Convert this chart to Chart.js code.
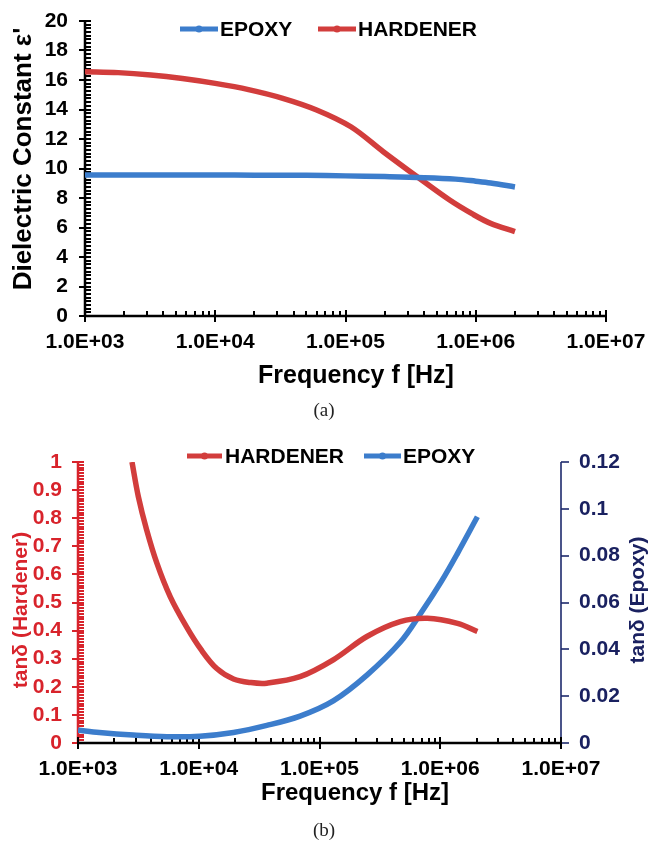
<!DOCTYPE html>
<html><head><meta charset="utf-8">
<script src="https://cdn.jsdelivr.net/npm/chart.js@4.4.1/dist/chart.umd.min.js"></script>
<style>
html,body{margin:0;padding:0;background:#fff;width:648px;height:841px;overflow:hidden}
canvas{position:absolute;left:0}
#ca{top:0}
#cb{top:420px}
.cap{position:absolute;left:0;width:648px;text-align:center;font-family:"Liberation Serif","Times New Roman",serif;font-size:19px;color:#222;line-height:22px}
</style></head><body>
<canvas id="ca" width="648" height="420"></canvas>
<canvas id="cb" width="648" height="421"></canvas>
<div class="cap" style="top:399px">(a)</div>
<div class="cap" style="top:819px">(b)</div>
<script>
// ---------- data ----------
const xTickValues = [1e3, 1e4, 1e5, 1e6, 1e7];
const xTickLabels = ['1.0E+03', '1.0E+04', '1.0E+05', '1.0E+06', '1.0E+07'];

// (a) dielectric constant
const freqEpoxyA = [1000, 2000, 5000, 10000, 20000, 50000, 100000, 200000, 400000, 700000, 1000000, 1300000, 2000000];
const epsEpoxy   = [9.56, 9.56, 9.56, 9.56, 9.55, 9.54, 9.50, 9.45, 9.38, 9.28, 9.14, 9.02, 8.75];
const freqHardA  = [1000, 1800, 3200, 5600, 10000, 18000, 33000, 60000, 110000, 195000, 355000, 630000, 950000, 1300000, 2000000];
const epsHard    = [16.56, 16.50, 16.34, 16.10, 15.77, 15.35, 14.76, 13.97, 12.83, 11.14, 9.44, 7.86, 6.90, 6.28, 5.72];
const yTicksA = ['0','2','4','6','8','10','12','14','16','18','20'];

// (b) loss tangent
const freqHardB = [2800, 3160, 3700, 4500, 5800, 7900, 10500, 14100, 19400, 27000, 36600, 69000, 130000, 247000, 466000, 783000, 1390000, 2030000];
const tanHard   = [1.0, 0.877, 0.759, 0.64, 0.521, 0.414, 0.331, 0.265, 0.228, 0.215, 0.213, 0.236, 0.296, 0.379, 0.432, 0.444, 0.426, 0.397];
const freqEpoxyB = [1000, 1500, 2860, 5460, 10200, 19400, 36600, 69000, 130000, 247000, 466000, 692000, 1016000, 1390000, 2030000];
const tanEpoxy   = [0.0055, 0.0045, 0.0034, 0.0027, 0.0029, 0.0045, 0.0075, 0.0115, 0.018, 0.029, 0.043, 0.0555, 0.0688, 0.081, 0.0966];
const yTicksBL = ['0','0.1','0.2','0.3','0.4','0.5','0.6','0.7','0.8','0.9','1'];
const yTicksBR = ['0','0.02','0.04','0.06','0.08','0.1','0.12'];

// ---------- style ----------
const RED = '#d23d3c', BLUE = '#3c7dcc';
const AXRED = '#d8232b', NAVY = '#1d2a6c', NAVYTXT = '#1a2160';
const FAM = '"Liberation Sans", Arial, Helvetica, sans-serif';
Chart.defaults.font.family = FAM;
Chart.defaults.devicePixelRatio = 1;

const pts = (xs, ys) => xs.map((x, i) => ({x, y: ys[i]}));
const noPad = s => { s.paddingLeft = 0; s.paddingRight = 0; s.paddingTop = 0; s.paddingBottom = 0; };

function drawText(ctx, text, x, y, rot, color, size) {
  ctx.save();
  ctx.translate(x, y);
  if (rot) ctx.rotate(rot);
  ctx.fillStyle = color;
  ctx.font = 'bold ' + size + 'px ' + FAM;
  ctx.textAlign = 'center'; ctx.textBaseline = 'middle';
  ctx.fillText(text, 0, 0);
  ctx.restore();
}

const decor = {
  id: 'decor',
  beforeDatasetsDraw(chart, args, o) {
    const ctx = chart.ctx, ca = chart.chartArea;
    const xs = chart.scales.x, yl = chart.scales.y;
    ctx.save();
    ctx.lineCap = 'butt';
    // left axis
    ctx.strokeStyle = o.leftColor; ctx.lineWidth = o.axisW;
    ctx.beginPath(); ctx.moveTo(ca.left, ca.top - 1); ctx.lineTo(ca.left, ca.bottom); ctx.stroke();
    ctx.lineWidth = 2;
    const yMin = yl.min, yMax = yl.max;
    const nMinor = Math.round((yMax - yMin) / o.leftMinor);
    for (let i = 0; i <= nMinor; i++) {
      const v = yMin + i * o.leftMinor;
      const py = Math.round(yl.getPixelForValue(v));
      const isMajor = Math.abs(v / o.leftMajor - Math.round(v / o.leftMajor)) < 1e-6;
      ctx.beginPath();
      if (isMajor) { ctx.moveTo(ca.left - 6, py); ctx.lineTo(ca.left + 6, py); }
      else { ctx.moveTo(ca.left, py); ctx.lineTo(ca.left + 6, py); }
      ctx.stroke();
    }
    // right axis
    if (o.rightColor) {
      const yr = chart.scales.y1;
      ctx.strokeStyle = o.rightColor; ctx.lineWidth = 1.6;
      ctx.beginPath(); ctx.moveTo(ca.right, ca.top); ctx.lineTo(ca.right, ca.bottom); ctx.stroke();
      yr.ticks.forEach(t => {
        const py = Math.round(yr.getPixelForValue(t.value));
        ctx.beginPath(); ctx.moveTo(ca.right, py); ctx.lineTo(ca.right + 8, py); ctx.stroke();
      });
    }
    // x axis
    ctx.strokeStyle = '#000'; ctx.lineWidth = o.axisW;
    ctx.beginPath(); ctx.moveTo(ca.left - 1, ca.bottom); ctx.lineTo(ca.right + 1, ca.bottom); ctx.stroke();
    ctx.lineWidth = 2;
    for (let d = 3; d <= 7; d++) {
      const px = Math.round(xs.getPixelForValue(Math.pow(10, d)));
      ctx.beginPath(); ctx.moveTo(px, ca.bottom - 6); ctx.lineTo(px, ca.bottom + 6); ctx.stroke();
      if (d < 7) for (let k = 2; k <= 9; k++) {
        const qx = Math.round(xs.getPixelForValue(k * Math.pow(10, d)));
        ctx.beginPath(); ctx.moveTo(qx, ca.bottom - 5); ctx.lineTo(qx, ca.bottom); ctx.stroke();
      }
    }
    ctx.restore();
  },
  afterDraw(chart, args, o) {
    const ctx = chart.ctx;
    ctx.save();
    // legend
    o.legend.forEach(it => {
      const ds = chart.data.datasets[it.ds];
      ctx.strokeStyle = ds.borderColor; ctx.lineWidth = 5;
      ctx.beginPath(); ctx.moveTo(it.x0, o.legendY); ctx.lineTo(it.x1, o.legendY); ctx.stroke();
      ctx.fillStyle = ds.borderColor;
      ctx.beginPath(); ctx.arc((it.x0 + it.x1) / 2, o.legendY, 3.5, 0, Math.PI * 2); ctx.fill();
      ctx.fillStyle = '#000';
      ctx.font = 'bold 21px ' + FAM;
      ctx.textBaseline = 'middle'; ctx.textAlign = 'left';
      ctx.fillText(ds.label, it.tx, o.legendY + 1);
    });
    // axis titles
    o.titles.forEach(t => drawText(ctx, t.text, t.x, t.y, t.rot, t.color, t.size));
    ctx.restore();
  }
};

function xScale(height) {
  return {
    type: 'logarithmic', position: 'bottom', min: 1e3, max: 1e7,
    afterBuildTicks: s => { s.ticks = xTickValues.map(v => ({value: v})); },
    ticks: {
      callback: (v, i) => xTickLabels[i],
      color: '#000', font: {size: 21, weight: 'bold'}, padding: 14,
      maxRotation: 0, autoSkip: false
    },
    grid: {display: false, drawTicks: false}, border: {display: false},
    afterFit: s => { s.height = height; noPad(s); }
  };
}

// ---------- chart (a) ----------
new Chart(document.getElementById('ca'), {
  type: 'line',
  data: {
    datasets: [
      {label: 'EPOXY', data: pts(freqEpoxyA, epsEpoxy), borderColor: BLUE, backgroundColor: BLUE},
      {label: 'HARDENER', data: pts(freqHardA, epsHard), borderColor: RED, backgroundColor: RED}
    ]
  },
  options: {
    responsive: false, animation: false,
    layout: {autoPadding: false, padding: {top: 21, right: 42, left: 0, bottom: 0}},
    elements: {line: {borderWidth: 5.5, tension: 0.35}, point: {radius: 0}},
    plugins: {
      legend: {display: false}, tooltip: {enabled: false},
      decor: {leftColor: '#000', axisW: 2.5, leftMajor: 2, leftMinor: 0.25,
              legendY: 29, legend: [{ds: 0, x0: 180, x1: 218, tx: 220}, {ds: 1, x0: 318, x1: 356, tx: 358}],
              titles: [
                {text: 'Frequency f [Hz]', x: 356, y: 376, rot: 0, color: '#000', size: 25},
                {text: "Dielectric Constant ε'", x: 24, y: 159, rot: -Math.PI / 2, color: '#000', size: 26}
              ]}
    },
    scales: {
      x: xScale(104),
      y: {
        type: 'linear', min: 0, max: 20,
        ticks: {stepSize: 2, autoSkip: false, callback: (v, i) => yTicksA[i], color: '#000', font: {size: 21, weight: 'bold'}, padding: 17},
        grid: {display: false, drawTicks: false}, border: {display: false},
        afterFit: s => { s.width = 85; noPad(s); }
      }
    }
  },
  plugins: [decor]
});

// ---------- chart (b) ----------
new Chart(document.getElementById('cb'), {
  type: 'line',
  data: {
    datasets: [
      {label: 'HARDENER', data: pts(freqHardB, tanHard), borderColor: RED, backgroundColor: RED, yAxisID: 'y'},
      {label: 'EPOXY', data: pts(freqEpoxyB, tanEpoxy), borderColor: BLUE, backgroundColor: BLUE, yAxisID: 'y1'}
    ]
  },
  options: {
    responsive: false, animation: false,
    layout: {autoPadding: false, padding: {top: 42, right: 0, left: 0, bottom: 0}},
    elements: {line: {borderWidth: 5.5, tension: 0.35}, point: {radius: 0}},
    plugins: {
      legend: {display: false}, tooltip: {enabled: false},
      decor: {leftColor: AXRED, rightColor: NAVY, axisW: 2.5, leftMajor: 0.1, leftMinor: 0.01,
              legendY: 36, legend: [{ds: 0, x0: 187, x1: 222, tx: 225}, {ds: 1, x0: 364, x1: 401, tx: 403}],
              titles: [
                {text: 'Frequency f [Hz]', x: 355, y: 373, rot: 0, color: '#000', size: 24},
                {text: 'tanδ (Hardener)', x: 21, y: 190, rot: -Math.PI / 2, color: AXRED, size: 21},
                {text: 'tanδ (Epoxy)', x: 638, y: 180, rot: -Math.PI / 2, color: NAVYTXT, size: 21}
              ]}
    },
    scales: {
      x: xScale(98),
      y: {
        type: 'linear', position: 'left', min: 0, max: 1,
        ticks: {stepSize: 0.1, autoSkip: false, callback: (v, i) => yTicksBL[i], color: AXRED, font: {size: 21, weight: 'bold'}, padding: 16},
        grid: {display: false, drawTicks: false}, border: {display: false},
        afterFit: s => { s.width = 78; noPad(s); }
      },
      y1: {
        type: 'linear', position: 'right', min: 0, max: 0.12,
        ticks: {stepSize: 0.02, autoSkip: false, callback: (v, i) => yTicksBR[i], color: NAVYTXT, font: {size: 21, weight: 'bold'}, padding: 18},
        grid: {display: false, drawTicks: false}, border: {display: false},
        afterFit: s => { s.width = 87; noPad(s); }
      }
    }
  },
  plugins: [decor]
});
</script>
</body></html>
